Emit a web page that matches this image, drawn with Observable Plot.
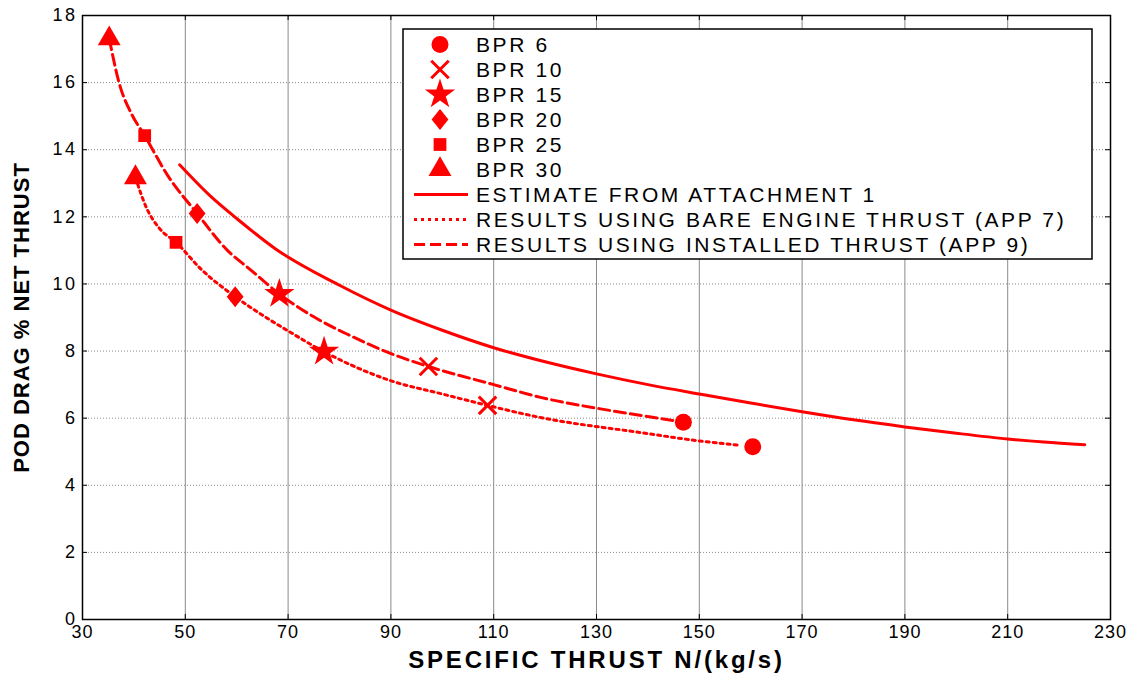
<!DOCTYPE html>
<html><head><meta charset="utf-8">
<script src="https://cdn.jsdelivr.net/npm/d3@7"></script>
<script src="https://cdn.jsdelivr.net/npm/@observablehq/plot@0.6"></script>
<style>
body{margin:0;background:#fff;}
#chart{width:1136px;height:683px;}
svg text{font-family:"Liberation Sans",Arial,sans-serif;}
</style></head><body><div id="chart"></div>
<script>
// ---- data ----
const bprLabels = ["BPR 6", "BPR 10", "BPR 15", "BPR 20", "BPR 25", "BPR 30"];
const markerSymbols = ["circle", "times", "star", "diamond", "square", "triangle"];
// installed thrust (APP 9) markers
const installedX = [146.9, 97.3, 68.3, 52.3, 42.1, 35.2];
const installedY = [5.88, 7.54, 9.70, 12.10, 14.42, 17.31];
// bare engine thrust (APP 7) markers
const bareX = [160.4, 108.8, 77.0, 59.7, 48.2, 40.3];
const bareY = [5.15, 6.38, 7.98, 9.62, 11.24, 13.17];
// curves
const installedCurveX = [35.2, 37.2, 39.6, 42.1, 46.5, 52.3, 58.2, 62.7, 68.3, 75.0, 82.1, 89.9, 97.3, 110.0, 119.1, 133.0, 145.0];
const installedCurveY = [17.31, 15.95, 15.05, 14.42, 13.25, 12.10, 11.0, 10.42, 9.70, 9.02, 8.46, 7.93, 7.54, 7.0, 6.62, 6.22, 5.93];
const bareCurveX = [40.3, 42.5, 45.0, 48.2, 53.0, 59.7, 62.7, 70.0, 77.0, 89.9, 100.0, 108.8, 119.1, 138.6, 149.6, 157.4];
const bareCurveY = [13.17, 12.25, 11.65, 11.24, 10.45, 9.62, 9.30, 8.60, 7.98, 7.12, 6.72, 6.38, 6.02, 5.57, 5.33, 5.20];
const estimateX = [48.9, 55, 60, 67.5, 80, 90, 100, 110, 120, 130, 140, 150, 160, 170, 180, 190, 200, 210, 217, 225];
const estimateY = [13.55, 12.6, 11.95, 11.05, 9.96, 9.22, 8.62, 8.10, 7.68, 7.32, 7.0, 6.72, 6.45, 6.19, 5.95, 5.74, 5.55, 5.38, 5.29, 5.21];
const xTicks = [30, 50, 70, 90, 110, 130, 150, 170, 190, 210, 230];
const yTicks = [0, 2, 4, 6, 8, 10, 12, 14, 16, 18];
const seriesNames = ["ESTIMATE FROM ATTACHMENT 1", "RESULTS USING BARE ENGINE THRUST (APP 7)", "RESULTS USING INSTALLED THRUST (APP 9)"];
const xTitle = "SPECIFIC THRUST N/(kg/s)";
const yTitle = "POD DRAG % NET THRUST";

// ---- build tables ----
const zip = (xs, ys) => xs.map((x, i) => ({x, y: ys[i]}));
const installedPts = bprLabels.map((b, i) => ({bpr: b, symbol: markerSymbols[i], x: installedX[i], y: installedY[i]}));
const barePts = bprLabels.map((b, i) => ({bpr: b, symbol: markerSymbols[i], x: bareX[i], y: bareY[i]}));
const installedCurve = zip(installedCurveX, installedCurveY);
const bareCurve = zip(bareCurveX, bareCurveY);
const estimateCurve = zip(estimateX, estimateY);

// ---- styles ----
const RED = "#ff0000";
const W = 1136, H = 683, mL = 82, mR = 26, mT = 15, mB = 64;
const fW = W - mL - mR, fH = H - mT - mB;
const dashBare = "3,4", dashInst = "11,5";

// custom rhombus (wider than d3's diamond)
const rhombus = {draw(ctx, size) { const h = Math.sqrt(size / 1.6); const w = h * 0.8; ctx.moveTo(0, -h); ctx.lineTo(w, 0); ctx.lineTo(0, h); ctx.lineTo(-w, 0); ctx.closePath(); }};
const symObj = {circle: d3.symbolCircle, times: d3.symbolTimes, star: d3.symbolStar, diamond: rhombus, square: d3.symbolSquare, triangle: d3.symbolTriangle};
const symR = {circle: 8.5, times: 8, star: 9.5, diamond: 7.5, square: 7.2, triangle: 8.5};

const markerMarks = [];
for (const pts of [installedPts, barePts]) {
  for (const s of markerSymbols) {
    const sub = pts.filter(d => d.symbol === s);
    if (s === "times") {
      markerMarks.push(Plot.dot(sub, {x: "x", y: "y", symbol: symObj[s], r: symR[s], stroke: RED, strokeWidth: 3, fill: "none"}));
    } else {
      markerMarks.push(Plot.dot(sub, {x: "x", y: "y", symbol: symObj[s], r: symR[s], fill: RED, stroke: "none"}));
    }
  }
}

const plot = Plot.plot({
  width: W, height: H,
  marginLeft: mL, marginRight: mR, marginTop: mT, marginBottom: mB,
  style: {fontFamily: "'Liberation Sans', Arial, sans-serif", fontSize: "18px", background: "#fff", color: "#000"},
  x: {domain: [30, 230]},
  y: {domain: [0, 18]},
  marks: [
    Plot.ruleX(xTicks, {stroke: "#8a8a8a", strokeWidth: 1}),
    Plot.ruleY(yTicks, {stroke: "#8a8a8a", strokeWidth: 1, strokeDasharray: "1,2"}),
    Plot.line(estimateCurve, {x: "x", y: "y", stroke: RED, strokeWidth: 3, curve: "monotone-x"}),
    Plot.line(bareCurve, {x: "x", y: "y", stroke: RED, strokeWidth: 3, strokeDasharray: dashBare, curve: "monotone-x"}),
    Plot.line(installedCurve, {x: "x", y: "y", stroke: RED, strokeWidth: 3, strokeDasharray: dashInst, curve: "monotone-x"}),
    ...markerMarks,
    Plot.ruleX(xTicks, {stroke: "#000", strokeWidth: 1, insetTop: fH - 5}),
    Plot.ruleX(xTicks, {stroke: "#000", strokeWidth: 1, insetBottom: fH - 5}),
    Plot.ruleY(yTicks, {stroke: "#000", strokeWidth: 1, insetRight: fW - 5}),
    Plot.ruleY(yTicks, {stroke: "#000", strokeWidth: 1, insetLeft: fW - 5}),
    Plot.frame({stroke: "#000", strokeWidth: 1.5}),
    Plot.axisX({ticks: xTicks, tickSize: 0, tickPadding: 6, label: null, fontSize: 18}),
    Plot.axisY({ticks: yTicks, tickSize: 0, tickPadding: 5, label: null, fontSize: 18}),
    Plot.text([xTitle], {frameAnchor: "bottom", dy: 48, fontSize: 24, fontWeight: "bold", text: d => d, textAnchor: "middle"}),
    Plot.text([yTitle], {frameAnchor: "left", dx: -61, rotate: -90, fontSize: 22, fontWeight: "bold", text: d => d, textAnchor: "middle"})
  ]
});
document.getElementById("chart").appendChild(plot);

const svg = d3.select(plot);
svg.selectAll('g[aria-label="x-axis tick label"] text').style("letter-spacing", "1px");
svg.selectAll('g[aria-label="y-axis tick label"] text').style("letter-spacing", "2.5px");
const titles = svg.selectAll('g[aria-label="text"] text');
titles.filter(function() { return this.textContent === xTitle; }).style("letter-spacing", "2.8px");
titles.filter(function() { return this.textContent === yTitle; }).style("letter-spacing", "1px");

// ---- legend ----
const lg = svg.append("g").attr("class", "legend").attr("text-anchor", "start");
const bx = 403, by = 29, bw = 689, bh = 230;
lg.append("rect").attr("x", bx).attr("y", by).attr("width", bw).attr("height", bh)
  .attr("fill", "#fff").attr("stroke", "#000").attr("stroke-width", 1.5);
const rowY = i => 44.5 + i * 25;
markerSymbols.forEach((s, i) => {
  const r = symR[s];
  const path = d3.symbol(symObj[s], Math.PI * r * r)();
  const p = lg.append("path").attr("d", path).attr("transform", `translate(440,${rowY(i)})`);
  if (s === "times") p.attr("fill", "none").attr("stroke", RED).attr("stroke-width", 3);
  else p.attr("fill", RED);
  lg.append("text").attr("x", 476).attr("y", rowY(i)).attr("dy", "0.36em").attr("text-anchor", "start")
    .attr("font-size", 21).style("letter-spacing", "2.6px").text(bprLabels[i]);
});
const dashes = [null, dashBare, dashInst];
seriesNames.forEach((name, j) => {
  const y = rowY(6 + j);
  const l = lg.append("line").attr("x1", 414).attr("x2", 468).attr("y1", y).attr("y2", y)
    .attr("stroke", RED).attr("stroke-width", 3);
  if (dashes[j]) l.attr("stroke-dasharray", dashes[j]);
  lg.append("text").attr("x", 476).attr("y", y).attr("dy", "0.36em").attr("text-anchor", "start")
    .attr("font-size", 21).style("letter-spacing", "2.6px").text(name);
});
</script>
</body></html>
